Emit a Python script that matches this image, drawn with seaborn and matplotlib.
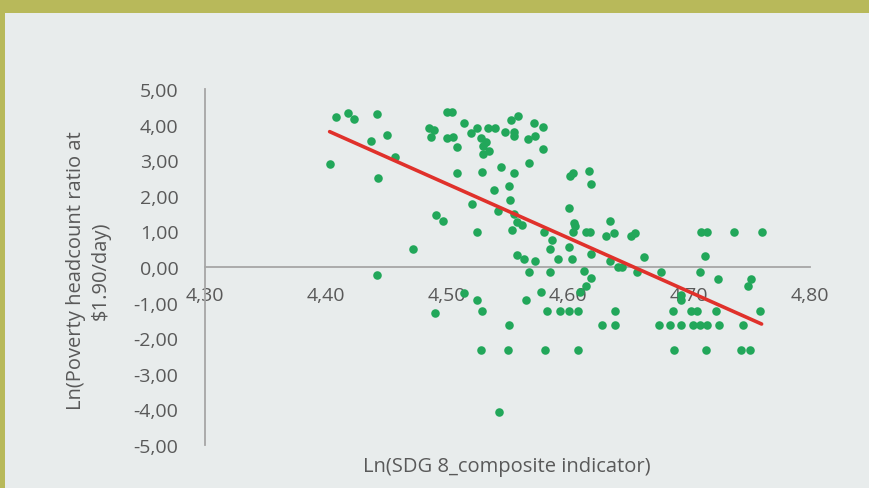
import matplotlib
matplotlib.use('Agg')
import matplotlib.pyplot as plt
import pandas as pd
import seaborn as sns
from matplotlib.patches import Rectangle
from matplotlib.ticker import FuncFormatter, MultipleLocator

# Ln(SDG 8 composite indicator), Ln(poverty headcount ratio at $1.90/day)
sdg8 = [
    4.408, 4.418, 4.423, 4.442, 4.450, 4.437, 4.457, 4.403, 4.443, 4.472, 4.442,
    4.500, 4.504, 4.514, 4.485, 4.489, 4.487, 4.500, 4.505, 4.508, 4.520, 4.525,
    4.528, 4.534, 4.540, 4.530, 4.535, 4.530, 4.532, 4.548, 4.555, 4.555, 4.553,
    4.559, 4.572, 4.579, 4.567, 4.573, 4.579, 4.508, 4.529, 4.545, 4.555, 4.568,
    4.539, 4.551, 4.552, 4.521, 4.542, 4.555, 4.491, 4.497, 4.558, 4.562, 4.525,
    4.554, 4.602, 4.604, 4.617, 4.619, 4.601, 4.605, 4.606, 4.604, 4.615, 4.618,
    4.635, 4.631, 4.638, 4.580, 4.587, 4.585, 4.601, 4.619, 4.558, 4.564, 4.573,
    4.592, 4.603, 4.635, 4.641, 4.568, 4.585, 4.613, 4.619,
    4.652, 4.655, 4.663, 4.645, 4.657, 4.677, 4.710, 4.715, 4.737, 4.760, 4.713,
    4.709, 4.724, 4.751, 4.749,
    4.615, 4.578, 4.610, 4.514, 4.525, 4.529, 4.490, 4.565, 4.583, 4.593, 4.601,
    4.608, 4.639, 4.551, 4.628, 4.639, 4.528, 4.550, 4.581, 4.608, 4.543,
    4.693, 4.693, 4.687, 4.702, 4.707, 4.722, 4.759, 4.675, 4.684, 4.693, 4.703,
    4.709, 4.715, 4.725, 4.745, 4.688, 4.714, 4.743, 4.750,
]
poverty = [
    4.22, 4.33, 4.16, 4.29, 3.72, 3.54, 3.10, 2.88, 2.50, 0.51, -0.22,
    4.34, 4.34, 4.04, 3.90, 3.86, 3.66, 3.62, 3.66, 3.36, 3.76, 3.90,
    3.62, 3.90, 3.90, 3.41, 3.27, 3.17, 3.50, 3.80, 3.80, 3.69, 4.14,
    4.23, 4.04, 3.92, 3.60, 3.67, 3.31, 2.64, 2.68, 2.82, 2.64, 2.91,
    2.16, 2.28, 1.89, 1.78, 1.57, 1.50, 1.46, 1.30, 1.26, 1.19, 0.97,
    1.04, 2.57, 2.63, 2.71, 2.33, 1.66, 1.24, 1.14, 0.97, 0.97, 0.97,
    1.30, 0.86, 0.96, 0.97, 0.77, 0.51, 0.57, 0.37, 0.34, 0.22, 0.17,
    0.22, 0.22, 0.18, 0.00, -0.13, -0.13, -0.12, -0.30,
    0.88, 0.96, 0.29, 0.00, -0.13, -0.13, 0.97, 0.97, 0.97, 0.97, 0.32,
    -0.13, -0.34, -0.34, -0.52,
    -0.52, -0.71, -0.71, -0.74, -0.93, -1.23, -1.29, -0.93, -1.23, -1.23, -1.23,
    -1.23, -1.23, -1.62, -1.62, -1.62, -2.32, -2.32, -2.32, -2.32, -4.06,
    -0.78, -0.92, -1.23, -1.23, -1.23, -1.23, -1.23, -1.62, -1.62, -1.62, -1.62,
    -1.62, -1.62, -1.62, -1.62, -2.32, -2.32, -2.32, -2.32,
]

X_TICKS = [4.30, 4.40, 4.50, 4.60, 4.70, 4.80]
BG = '#e8ecec'
OLIVE = '#b8b95a'
GREY_TEXT = '#595959'
AXIS_GREY = '#a6a6a6'


def comma_fmt(v, _pos):
    return f'{v:.2f}'.replace('.', ',')


def main():
    sns.set_theme(style='white')
    plt.rcParams['font.family'] = ['Open Sans', 'DejaVu Sans']

    df = pd.DataFrame({'sdg8': sdg8, 'poverty': poverty})

    fig = plt.figure(figsize=(8.69, 4.89), dpi=100)
    fig.patch.set_facecolor(OLIVE)
    fig.add_artist(Rectangle((5 / 869, 0), 1, 1 - 14 / 489, transform=fig.transFigure,
                             facecolor=BG, edgecolor='none', zorder=-1))

    ax = fig.add_axes([205 / 869, 1 - 446 / 489, (810 - 205) / 869, (446 - 90) / 489])
    ax.set_facecolor('none')

    sns.scatterplot(data=df, x='sdg8', y='poverty', ax=ax, color='#22a75a',
                    s=38, linewidth=0, zorder=3)
    sns.regplot(data=df, x='sdg8', y='poverty', ax=ax, scatter=False, ci=None,
                line_kws={'color': '#e0312b', 'linewidth': 2.6, 'zorder': 4})

    ax.set_xlim(4.30, 4.80)
    ax.set_ylim(-5, 5)
    ax.set_xticks(X_TICKS)
    ax.yaxis.set_major_locator(MultipleLocator(1))
    ax.xaxis.set_major_formatter(FuncFormatter(comma_fmt))
    ax.yaxis.set_major_formatter(FuncFormatter(comma_fmt))

    for side in ['top', 'right']:
        ax.spines[side].set_visible(False)
    ax.spines['bottom'].set_position(('data', 0))
    ax.spines['bottom'].set_color(AXIS_GREY)
    ax.spines['bottom'].set_linewidth(1.3)
    ax.spines['left'].set_color(AXIS_GREY)
    ax.spines['left'].set_linewidth(1.3)
    ax.spines['bottom'].set_zorder(2)

    ax.tick_params(axis='x', length=0, pad=14, labelsize=14, labelcolor=GREY_TEXT)
    ax.tick_params(axis='y', length=0, pad=19, labelsize=14, labelcolor=GREY_TEXT)

    ax.set_xlabel('')
    ax.set_ylabel('')
    fig.text(507 / 869, 1 - 467 / 489, 'Ln(SDG 8_composite indicator)', ha='center',
             va='center', fontsize=14.5, color=GREY_TEXT)
    fig.text(88 / 869, 1 - 271 / 489, 'Ln(Poverty headcount ratio at\n\\$1.90/day)',
             ha='center', va='center', rotation=90, fontsize=14.5, color=GREY_TEXT,
             linespacing=1.3)

    fig.savefig('out.png', dpi=100, facecolor=fig.get_facecolor())
    plt.close(fig)


if __name__ == '__main__':
    main()
